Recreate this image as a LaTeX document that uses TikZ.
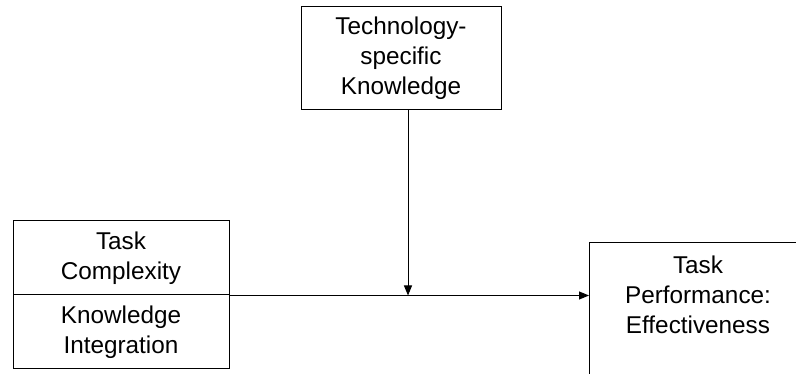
\documentclass[tikz,border=0pt]{standalone}
\usepackage{fontspec}
\setmainfont{Liberation Sans}
\usetikzlibrary{arrows.meta}
\begin{document}
\begin{tikzpicture}[x=1pt,y=-1pt,
  box/.style={draw=black,line width=1pt,rectangle,inner sep=0pt,align=center,
    font=\fontsize{24.3}{30}\selectfont},
  lbl/.style={inner sep=0pt,align=center,font=\fontsize{24.3}{30}\selectfont},
  arr/.style={draw=black,line width=1pt,-{Triangle[length=10pt,width=8pt]}}]
\useasboundingbox (0,0) rectangle (796,374);
\clip (0,0) rectangle (796,374);
\node[box,minimum width=200pt,minimum height=103pt] (tech) at (401,58.5) {Technology-\\specific\\Knowledge};
\node[box,minimum width=216pt,minimum height=74pt] (taskc) at (121,258) {Task\\Complexity};
\node[box,minimum width=216pt,minimum height=74pt] (ki) at (121,332) {Knowledge\\Integration};
\node[draw=black,line width=1pt,rectangle,inner sep=0pt,anchor=north west,minimum width=218pt,minimum height=180pt] (perfbox) at (589,242) {};
\node[lbl] (perf) at (698,295) {Task\\Performance:\\Effectiveness};
\draw[arr] (taskc.south east) -- (taskc.south east -| perfbox.west);
\draw[arr] ([xshift=7pt]tech.south) -- ([xshift=7pt]tech.south |- taskc.south);
\end{tikzpicture}
\end{document}
